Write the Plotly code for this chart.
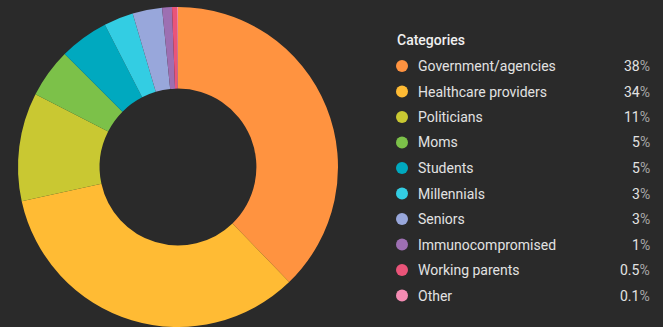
import plotly.graph_objects as go

categories = ["Government/agencies", "Healthcare providers", "Politicians", "Moms",
              "Students", "Millennials", "Seniors", "Immunocompromised",
              "Working parents", "Other"]
shares = [38, 34, 11, 5, 5, 3, 3, 1, 0.5, 0.1]
share_labels = ["38", "34", "11", "5", "5", "3", "3", "1", "0.5", "0.1"]
colors = ["#ff9340", "#ffbb34", "#c9c832", "#7cc149", "#00a9bf", "#33cde3",
          "#98a7db", "#9d6fb2", "#ea5479", "#f48cb3"]

W, H = 663, 327
BG = "#2a2a2a"

fig = go.Figure()
fig.add_trace(go.Pie(
    labels=categories, values=shares, hole=0.49, sort=False,
    direction="clockwise", rotation=0, textinfo="none",
    marker=dict(colors=colors, line=dict(width=0)),
    domain=dict(x=[18 / W, 338 / W], y=[0, 320 / H]),
    showlegend=False, hoverinfo="label+percent",
))

# custom legend on the right
annotations = [dict(
    x=395 / W, y=1 - 40 / H, xref="paper", yref="paper", xanchor="left", yanchor="middle",
    text="Categories", showarrow=False,
    font=dict(family="Roboto", size=14, color="#f0f0f0", weight=500),
)]
shapes = []
row0, step = 66, 25.5
for i, (cat, lab, col) in enumerate(zip(categories, share_labels, colors)):
    yp = row0 + i * step
    y = 1 - yp / H
    shapes.append(dict(
        type="circle", xref="paper", yref="paper", fillcolor=col, line=dict(width=0),
        x0=396 / W, x1=408 / W, y0=1 - (yp + 6) / H, y1=1 - (yp - 6) / H,
    ))
    annotations.append(dict(
        x=416 / W, y=y, xref="paper", yref="paper", xanchor="left", yanchor="middle",
        text=cat, showarrow=False, font=dict(family="Roboto", size=14, color="#e2e2e2"),
    ))
    annotations.append(dict(
        x=652 / W, y=y, xref="paper", yref="paper", xanchor="right", yanchor="middle",
        text=lab + "<span style='color:#a8a8a8'>%</span>", showarrow=False,
        font=dict(family="Roboto", size=14, color="#e2e2e2"),
    ))

fig.update_layout(
    width=W, height=H, margin=dict(l=0, r=0, t=0, b=0),
    paper_bgcolor=BG, plot_bgcolor=BG, annotations=annotations, shapes=shapes,
)

fig.write_html("out.html", config={"displayModeBar": False},
               post_script="document.body.style.margin='0';")
